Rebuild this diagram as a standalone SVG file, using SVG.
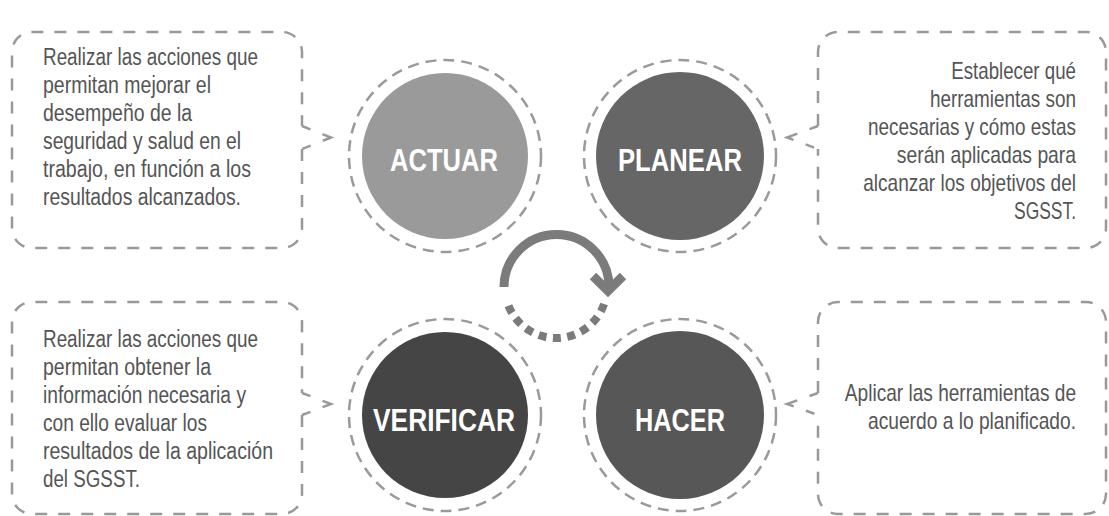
<svg xmlns="http://www.w3.org/2000/svg" width="1109" height="516" viewBox="0 0 1109 516">
<style>
.box{fill:none;stroke:#999;stroke-width:2.5;stroke-dasharray:12 11}
.ptr{fill:none;stroke:#999;stroke-width:2.5;stroke-dasharray:9 13 18 13 9}
.ring{fill:none;stroke:#9a9a9a;stroke-width:2.5;stroke-dasharray:11 7}
.body{font-family:"Liberation Sans",Arial,sans-serif;font-size:23px;fill:#555}
.r{text-anchor:end}
.lbl{font-family:"Liberation Sans",Arial,sans-serif;font-size:31px;font-weight:bold;fill:#fff}
.cyc{fill:none;stroke:#7b7b7b;stroke-width:9}
</style>
<rect width="1109" height="516" fill="#fff"/>
<g id="box-actuar">
<path class="box" d="M302 149 L302 228 A20 20 0 0 1 282 248 L32 248 A20 20 0 0 1 12 228 L12 52 A20 20 0 0 1 32 32 L282 32 A20 20 0 0 1 302 52 L302 126"/>
<text class="body" x="43" y="64.5" textLength="215" lengthAdjust="spacingAndGlyphs">Realizar las acciones que</text>
<text class="body" x="43" y="92.5" textLength="168" lengthAdjust="spacingAndGlyphs">permitan mejorar el</text>
<text class="body" x="43" y="120.5" textLength="149" lengthAdjust="spacingAndGlyphs">desempeño de la</text>
<text class="body" x="43" y="148.5" textLength="198" lengthAdjust="spacingAndGlyphs">seguridad y salud en el</text>
<text class="body" x="43" y="176.5" textLength="208" lengthAdjust="spacingAndGlyphs">trabajo, en función a los</text>
<text class="body" x="43" y="204.5" textLength="198" lengthAdjust="spacingAndGlyphs">resultados alcanzados.</text>
</g>
<g id="box-planear">
<path class="box" d="M818 126 L818 52 A20 20 0 0 1 838 32 L1086 32 A20 20 0 0 1 1106 52 L1106 228 A20 20 0 0 1 1086 248 L838 248 A20 20 0 0 1 818 228 L818 149"/>
<g transform="translate(1076 0) scale(0.8 1)">
<text class="body r" x="0" y="79.5" textLength="156" lengthAdjust="spacingAndGlyphs">Establecer qué</text>
<text class="body r" x="0" y="107.5" textLength="182.5" lengthAdjust="spacingAndGlyphs">herramientas son</text>
<text class="body r" x="0" y="135.5" textLength="260" lengthAdjust="spacingAndGlyphs">necesarias y cómo estas</text>
<text class="body r" x="0" y="163.5" textLength="224" lengthAdjust="spacingAndGlyphs">serán aplicadas para</text>
<text class="body r" x="0" y="191.5" textLength="266" lengthAdjust="spacingAndGlyphs">alcanzar los objetivos del</text>
<text class="body r" x="0" y="219.5" textLength="77.5" lengthAdjust="spacingAndGlyphs">SGSST.</text>
</g>
</g>
<g id="box-verificar">
<path class="box" d="M302 415 L302 494 A20 20 0 0 1 282 514 L32 514 A20 20 0 0 1 12 494 L12 322 A20 20 0 0 1 32 302 L282 302 A20 20 0 0 1 302 322 L302 393"/>
<text class="body" x="43" y="347" textLength="215" lengthAdjust="spacingAndGlyphs">Realizar las acciones que</text>
<text class="body" x="43" y="375" textLength="168" lengthAdjust="spacingAndGlyphs">permitan obtener la</text>
<text class="body" x="43" y="403" textLength="203" lengthAdjust="spacingAndGlyphs">información necesaria y</text>
<text class="body" x="43" y="431" textLength="164" lengthAdjust="spacingAndGlyphs">con ello evaluar los</text>
<text class="body" x="43" y="459" textLength="230" lengthAdjust="spacingAndGlyphs">resultados de la aplicación</text>
<text class="body" x="43" y="487" textLength="97" lengthAdjust="spacingAndGlyphs">del SGSST.</text>
</g>
<g id="box-hacer">
<path class="box" d="M818 393 L818 322 A20 20 0 0 1 838 302 L1086 302 A20 20 0 0 1 1106 322 L1106 494 A20 20 0 0 1 1086 514 L838 514 A20 20 0 0 1 818 494 L818 415"/>
<g transform="translate(1076 0) scale(0.8 1)">
<text class="body r" x="0" y="401" textLength="289" lengthAdjust="spacingAndGlyphs">Aplicar las herramientas de</text>
<text class="body r" x="0" y="429" textLength="260" lengthAdjust="spacingAndGlyphs">acuerdo a lo planificado.</text>
</g>
</g>
<g id="actuar">
<circle class="ring" cx="445" cy="156" r="96"/>
<circle cx="445" cy="156" r="83" fill="#9a9a9a"/>
<text class="lbl" x="390" y="170.5" textLength="108" lengthAdjust="spacingAndGlyphs">ACTUAR</text>
</g>
<g id="planear">
<circle class="ring" cx="680" cy="156" r="96"/>
<circle cx="680" cy="156" r="84" fill="#666"/>
<text class="lbl" x="618" y="170.5" textLength="124" lengthAdjust="spacingAndGlyphs">PLANEAR</text>
</g>
<g id="verificar">
<circle class="ring" cx="445" cy="415" r="96"/>
<circle cx="445" cy="415" r="83" fill="#454545"/>
<text class="lbl" x="373" y="430.5" textLength="142" lengthAdjust="spacingAndGlyphs">VERIFICAR</text>
</g>
<g id="hacer">
<circle class="ring" cx="680" cy="415" r="96"/>
<circle cx="680" cy="415" r="84" fill="#575757"/>
<text class="lbl" x="635" y="430.5" textLength="90" lengthAdjust="spacingAndGlyphs">HACER</text>
</g>
<g id="connectors">
<path class="ptr" d="M302 126 L331 137.5 L302 149"/>
<path class="ptr" d="M818 126 L787 137.5 L818 149"/>
<path class="ptr" d="M302 393 L331 404 L302 415"/>
<path class="ptr" d="M818 393 L787 404 L818 415"/>
<path class="cyc" d="M504 287 A52.5 52.5 0 0 1 609 287"/>
<path class="cyc" d="M593 276 L608 291 L623 276"/>
<path fill="none" stroke="#7b7b7b" stroke-width="8" stroke-dasharray="8 6.46" d="M508.5 305.7 A51 51 0 0 0 604.1 304"/>
</g>
</svg>
